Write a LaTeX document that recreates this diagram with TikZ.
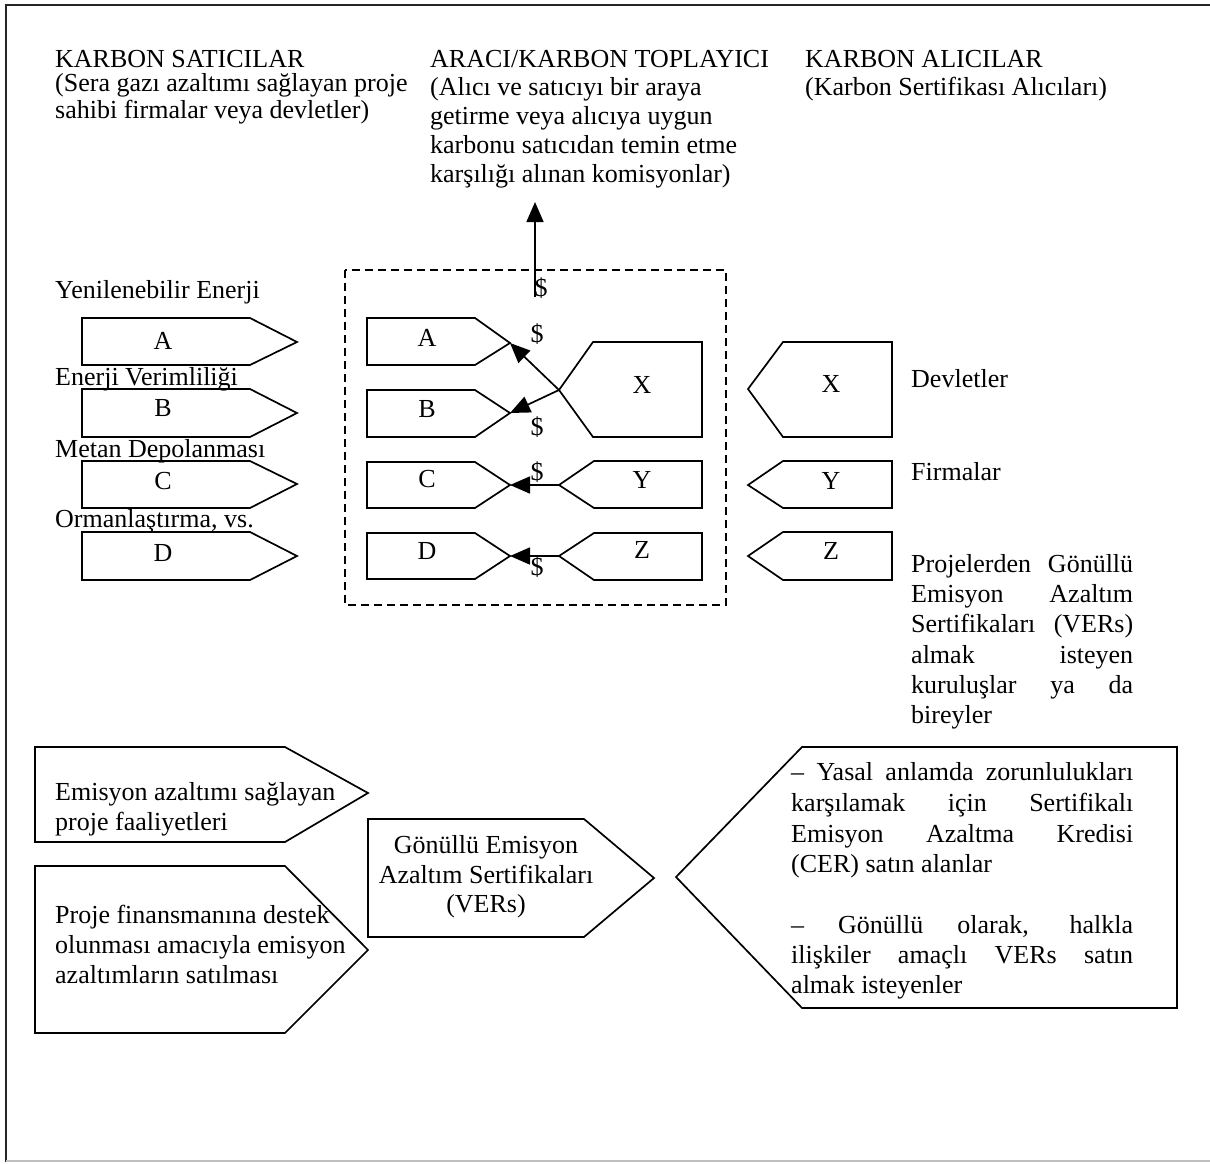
\documentclass[tikz,border=0pt]{standalone}
\usepackage{fontspec}
\setmainfont{Liberation Serif}
\usetikzlibrary{arrows.meta}
\tikzset{
  shp/.style={draw=black, line width=1.7pt, line join=miter},
  txt/.style={inner sep=0pt, font=\fontsize{26}{30}\selectfont},
  arr/.style={line width=1.7pt, -{Triangle[length=20pt,width=17pt]}},
  frame/.style={line width=2pt, black!85},
}
\begin{document}
\begin{tikzpicture}[x=1pt,y=-1pt]
\useasboundingbox (0,0) rectangle (1210,1163);
% frame
\draw[frame] (6,1162) -- (6,5) -- (1210,5);
\draw[black!25, line width=1.5pt] (6,1161) -- (1210,1161);

% header texts
\foreach \t/\y [count=\i] in {{KARBON SATICILAR}/67, {(Sera gazı azaltımı sağlayan proje}/91, {sahibi firmalar veya devletler)}/118}
  \node[txt, anchor=base west] (hl\i) at (55,\y) {\t};
\foreach \t/\y [count=\i] in {{ARACI/KARBON TOPLAYICI}/67, {(Alıcı ve satıcıyı bir araya}/95, {getirme veya alıcıya uygun}/124, {karbonu satıcıdan temin etme}/153, {karşılığı alınan komisyonlar)}/182}
  \node[txt, anchor=base west] (hm\i) at (430,\y) {\t};
\foreach \t/\y [count=\i] in {{KARBON ALICILAR}/67, {(Karbon Sertifikası Alıcıları)}/95}
  \node[txt, anchor=base west] (hr\i) at (805,\y) {\t};

% left column (sellers)
\draw[shp] (82,318) -- (250,318) -- (297,342) -- (250,365) -- (82,365) -- cycle;
\draw[shp] (82,389) -- (250,389) -- (297,413) -- (250,437) -- (82,437) -- cycle;
\draw[shp] (82,461) -- (250,461) -- (297,484) -- (250,508) -- (82,508) -- cycle;
\draw[shp] (82,532) -- (250,532) -- (297,556) -- (250,580) -- (82,580) -- cycle;
\node[txt, anchor=base] (lA) at (163,349) {A};
\node[txt, anchor=base] (lB) at (163,416) {B};
\node[txt, anchor=base] (lC) at (163,489) {C};
\node[txt, anchor=base] (lD) at (163,561) {D};
\node[txt, anchor=base west] (lab1) at (55,298) {Yenilenebilir Enerji};
\node[txt, anchor=base west] (lab2) at (55,385) {Enerji Verimliliği};
\node[txt, anchor=base west] (lab3) at (55,457) {Metan Depolanması};
\node[txt, anchor=base west] (lab4) at (55,527) {Ormanlaştırma, vs.};

% middle (broker)
\draw[shp, dash pattern=on 8pt off 5pt] (345,270) rectangle (726,605);
\draw[shp] (367,318) -- (475,318) -- (510,343) -- (475,365) -- (367,365) -- cycle;
\draw[shp] (367,390) -- (475,390) -- (510,413) -- (475,437) -- (367,437) -- cycle;
\draw[shp] (367,462) -- (475,462) -- (510,485) -- (475,508) -- (367,508) -- cycle;
\draw[shp] (367,533) -- (475,533) -- (510,556) -- (475,579) -- (367,579) -- cycle;
\draw[shp] (593,342) -- (702,342) -- (702,437) -- (593,437) -- (559,390) -- cycle;
\draw[shp] (594,461) -- (702,461) -- (702,508) -- (594,508) -- (559,485) -- cycle;
\draw[shp] (594,533) -- (702,533) -- (702,580) -- (594,580) -- (559,556) -- cycle;
\coordinate (mAt) at (510,343);
\coordinate (mBt) at (510,413);
\coordinate (mCt) at (510,485);
\coordinate (mDt) at (510,556);
\coordinate (mXn) at (559,390);
\coordinate (mYn) at (559,485);
\coordinate (mZn) at (559,556);
\node[txt, anchor=base] (mA) at (427,346) {A};
\node[txt, anchor=base] (mB) at (427,417) {B};
\node[txt, anchor=base] (mC) at (427,487) {C};
\node[txt, anchor=base] (mD) at (427,559) {D};
\node[txt, anchor=base] (mX) at (642,393) {X};
\node[txt, anchor=base] (mY) at (642,488) {Y};
\node[txt, anchor=base] (mZ) at (642,558) {Z};
\draw[arr] (mXn) -- (mAt);
\draw[arr] (mXn) -- (mBt);
\draw[arr] (mYn) -- (mCt);
\draw[arr] (mZn) -- (mDt);
\coordinate (upS) at (535,297);
\coordinate (upT) at (535,202);
\draw[arr] (upS) -- (upT);
\node[txt] (d0) at (541,288) {\$};
\node[txt] (d1) at (537,334) {\$};
\node[txt] (d2) at (537,427) {\$};
\node[txt] (d3) at (537,472) {\$};
\node[txt] (d4) at (537,567) {\$};

% right column (buyers)
\draw[shp] (748,389) -- (783,342) -- (892,342) -- (892,437) -- (783,437) -- cycle;
\draw[shp] (748,485) -- (783,461) -- (892,461) -- (892,508) -- (783,508) -- cycle;
\draw[shp] (748,556) -- (783,532) -- (892,532) -- (892,580) -- (783,580) -- cycle;
\node[txt, anchor=base] (rX) at (831,392) {X};
\node[txt, anchor=base] (rY) at (831,489) {Y};
\node[txt, anchor=base] (rZ) at (831,559) {Z};
\node[txt, anchor=base west] (rl1) at (911,387) {Devletler};
\node[txt, anchor=base west] (rl2) at (911,480) {Firmalar};
\foreach \t/\y [count=\i] in {{\makebox[222pt][s]{Projelerden Gönüllü}}/572, {\makebox[222pt][s]{Emisyon Azaltım}}/602, {\makebox[222pt][s]{Sertifikaları (VERs)}}/632, {\makebox[222pt][s]{almak isteyen}}/663, {\makebox[222pt][s]{kuruluşlar ya da}}/693, {bireyler}/723}
  \node[txt, anchor=base west] (rp\i) at (911,\y) {\t};

% bottom row
\draw[shp] (35,747) -- (285,747) -- (368,793) -- (285,842) -- (35,842) -- cycle;
\draw[shp] (35,866) -- (285,866) -- (368,950) -- (285,1033) -- (35,1033) -- cycle;
\draw[shp] (368,819) -- (584,819) -- (654,878) -- (584,937) -- (368,937) -- cycle;
\draw[shp] (676,877) -- (802,747) -- (1177,747) -- (1177,1008) -- (802,1008) -- cycle;
\foreach \t/\y [count=\i] in {{Emisyon azaltımı sağlayan}/800, {proje faaliyetleri}/830}
  \node[txt, anchor=base west] (b1\i) at (55,\y) {\t};
\foreach \t/\y [count=\i] in {{Proje finansmanına destek}/923, {olunması amacıyla emisyon}/953, {azaltımların satılması}/983}
  \node[txt, anchor=base west] (b2\i) at (55,\y) {\t};
\foreach \t/\y [count=\i] in {{Gönüllü Emisyon}/853, {Azaltım Sertifikaları}/883, {(VERs)}/912}
  \node[txt, anchor=base] (b3\i) at (486,\y) {\t};
\foreach \t/\y [count=\i] in {{\makebox[342pt][s]{– Yasal anlamda zorunlulukları}}/780, {\makebox[342pt][s]{karşılamak için Sertifikalı}}/811, {\makebox[342pt][s]{Emisyon Azaltma Kredisi}}/842, {(CER) satın alanlar}/872, {\makebox[342pt][s]{– Gönüllü olarak, halkla}}/933, {\makebox[342pt][s]{ilişkiler amaçlı VERs satın}}/963, {almak isteyenler}/993}
  \node[txt, anchor=base west] (b4\i) at (791,\y) {\t};
\end{tikzpicture}
\end{document}
